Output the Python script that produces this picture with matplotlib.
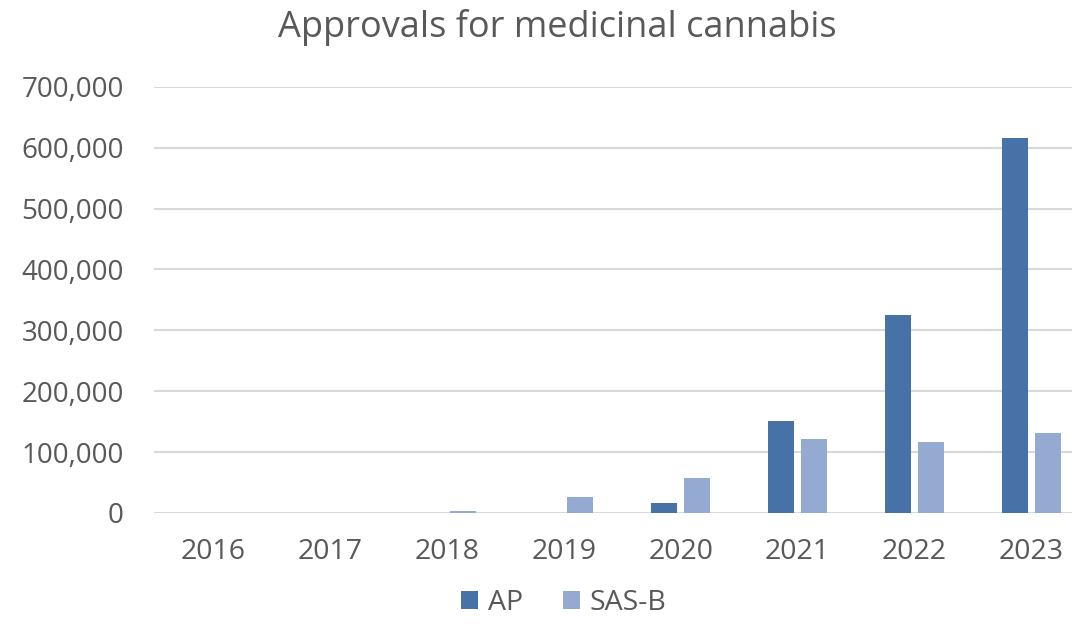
import numpy as np
import matplotlib
matplotlib.use("Agg")
import matplotlib.pyplot as plt
from matplotlib.ticker import FuncFormatter

years = ["2016", "2017", "2018", "2019", "2020", "2021", "2022", "2023"]
ap = [0, 0, 0, 0, 17000, 151000, 325000, 616000]
sas_b = [0, 0, 2500, 26000, 58000, 122000, 117000, 132000]

plt.rcParams['font.family'] = ['Open Sans', 'DejaVu Sans']
grey = '#595959'

fig = plt.figure(figsize=(10.8, 6.24), dpi=100)
ax = fig.add_axes([0.143, 0.178, 0.850, 0.683])

x = np.arange(len(years))
w = 0.222
ax.bar(x - 0.141, ap, w, color='#4672A8', label='AP', zorder=3)
ax.bar(x + 0.141, sas_b, w, color='#95AAD1', label='SAS-B', zorder=3)

ax.set_xlim(-0.5, len(years) - 0.65)
ax.set_ylim(0, 700000)
ax.set_yticks(np.arange(0, 700001, 100000))
ax.yaxis.set_major_formatter(FuncFormatter(lambda v, p: f"{int(v):,}"))
ax.set_xticks(x)
ax.set_xticklabels(years)
ax.grid(axis='y', color='#D9D9D9', lw=1.5, zorder=0)
for s in ax.spines.values():
    s.set_visible(False)
ax.tick_params(length=0, labelsize=20.5, labelcolor=grey)
ax.tick_params(axis='x', pad=18)
ax.tick_params(axis='y', labelsize=20, pad=22)

fig.suptitle("Approvals for medicinal cannabis", x=0.516, y=0.985, fontsize=26, color=grey)
fig.legend(loc='lower center', bbox_to_anchor=(0.522, -0.03), ncol=2, frameon=False,
           fontsize=20.5, labelcolor=grey, handlelength=0.6, handleheight=0.6,
           columnspacing=1.4, handletextpad=0.35)

fig.savefig("out.png", dpi=100)
